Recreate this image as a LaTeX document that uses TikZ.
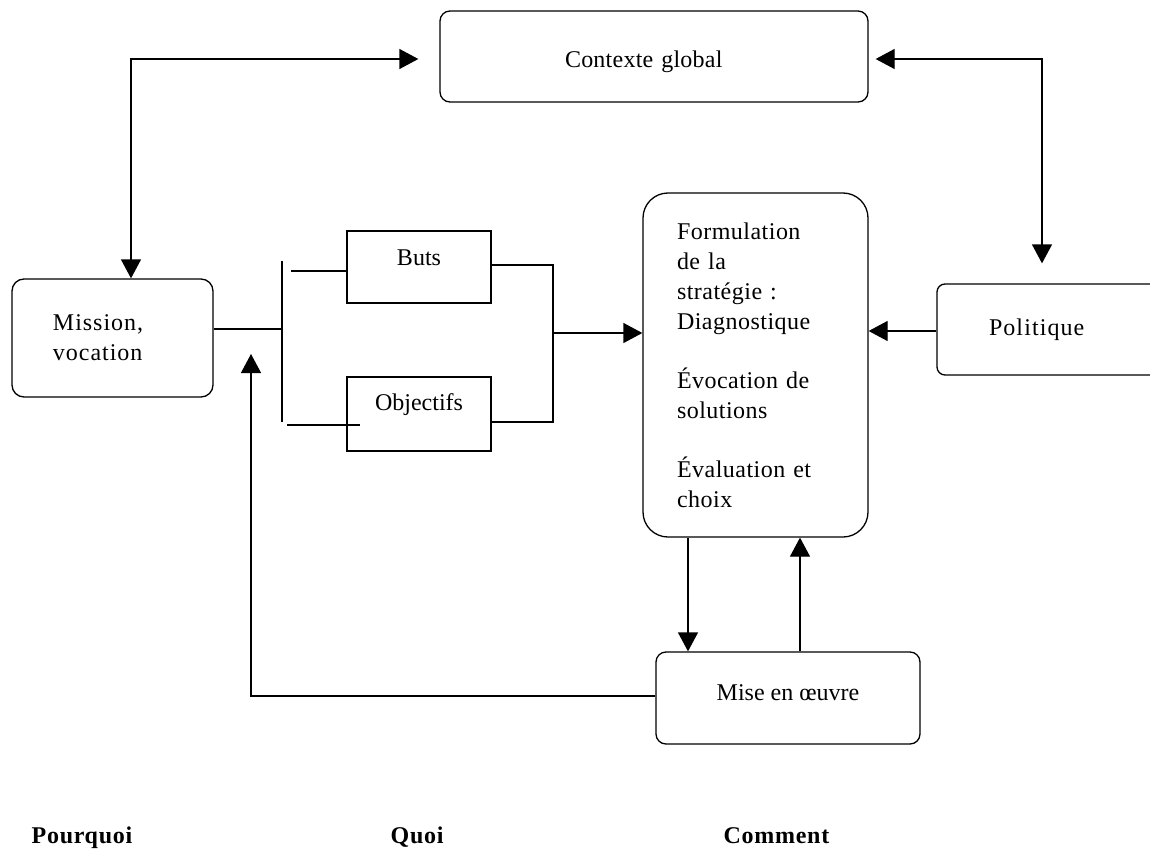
\documentclass[tikz,border=0pt]{standalone}
\usepackage{fontspec}
\setmainfont{Liberation Serif}
\usetikzlibrary{arrows.meta,positioning}

\begin{document}
\begin{tikzpicture}[x=1bp,y=-1bp,line width=1.3bp,font=\fontsize{24bp}{30bp}\selectfont,
  box/.style n args={3}{draw,rectangle,rounded corners=#1,minimum width=#2,minimum height=#3,inner sep=0pt},
  tgt/.style={draw,rectangle,minimum width=144bp,inner sep=0pt},
  spaced/.style={font=\fontsize{24bp}{30bp}\selectfont\addfontfeature{LetterSpace=#1}},
  arr/.style={-{Triangle[length=19bp,width=20bp]}},
  dbl/.style={{Triangle[length=19bp,width=20bp]}-{Triangle[length=19bp,width=20bp]}},
  lbl/.style={anchor=base west,inner sep=0pt,font=\fontsize{24bp}{30bp}\selectfont\bfseries\addfontfeature{LetterSpace=3}}]
\useasboundingbox (0,0) rectangle (1150,850);

% boxes
\node[box={10bp}{428bp}{0bp},align=left,text width=178bp,inner xsep=125bp,text height=56bp,text depth=35bp,spaced=1] (ctx) at (654,56.5) {Contexte global};
\node[box={12bp}{201bp}{118bp},align=left,text width=119bp,inner xsep=41bp,spaced=4] (mission) at (112.5,338) {Mission,\\vocation};
\node[tgt,text height=34bp,text depth=38bp] (buts) at (419,267) {Buts};
\node[tgt,text height=33bp,text depth=41bp] (obj) at (419,414) {Objectifs};
\node[box={25bp}{225bp}{344bp},align=left,text width=157bp,inner xsep=34bp,spaced=2] (form) at (755.5,365)
  {Formulation\\de la\\stratégie :\\Diagnostique\\[29bp]Évocation de\\solutions\\[29bp]Évaluation et\\choix};
\node[box={8bp}{228bp}{91bp},align=left,text width=124bp,inner xsep=52bp,spaced=4.5] (pol) at (1051,329.5) {Politique};
\node[box={10bp}{264bp}{0bp},text height=48bp,text depth=44bp] (mise) at (788,698) {Mise en œuvre};

% bracket between mission and goals
\coordinate (bar top) at (282,261);
\coordinate (bar bot) at (282,422);
\coordinate (buts stub) at (291,271);
\coordinate (obj stub) at (287,425);
\coordinate (join) at (553,333);
\coordinate (fb) at (251,354);
\draw (bar top) -- (bar bot);
\draw ([yshift=9bp]mission.east) -- ([yshift=9bp]mission.east -| bar top);
\draw (buts stub) -- (buts stub -| buts.west);
\draw (obj stub) -- ([xshift=14bp]obj stub -| obj.west);
\draw ([yshift=2bp]buts.east) -| (join) |- ([yshift=-8bp]obj.east);
\draw[arr] (join) -- (join -| form.west);

% links
\draw[dbl,shorten >=21bp] ([xshift=18.5bp]mission.north) |- ([yshift=-2.5bp]ctx.west);
\draw[dbl,shorten <=7bp,shorten >=20bp] ([yshift=-2.5bp]ctx.east) -| ([xshift=-9bp]pol.north);
\draw[arr] ([yshift=-1.5bp]pol.west) -- ([yshift=-1.5bp]pol.west -| form.east);
\draw[arr] ([xshift=-67.5bp]form.south) -- ([xshift=-67.5bp]form.south |- mise.north);
\draw[arr] ([xshift=12bp]mise.north) -- ([xshift=12bp]mise.north |- form.south);
\draw[arr] ([yshift=2bp]mise.west) -| (fb);

\foreach \x/\name/\txt in {31/why/Pourquoi,390/what/Quoi,723/how/Comment}
  \node[lbl] (\name) at (\x,843) {\txt};
\end{tikzpicture}
\end{document}
